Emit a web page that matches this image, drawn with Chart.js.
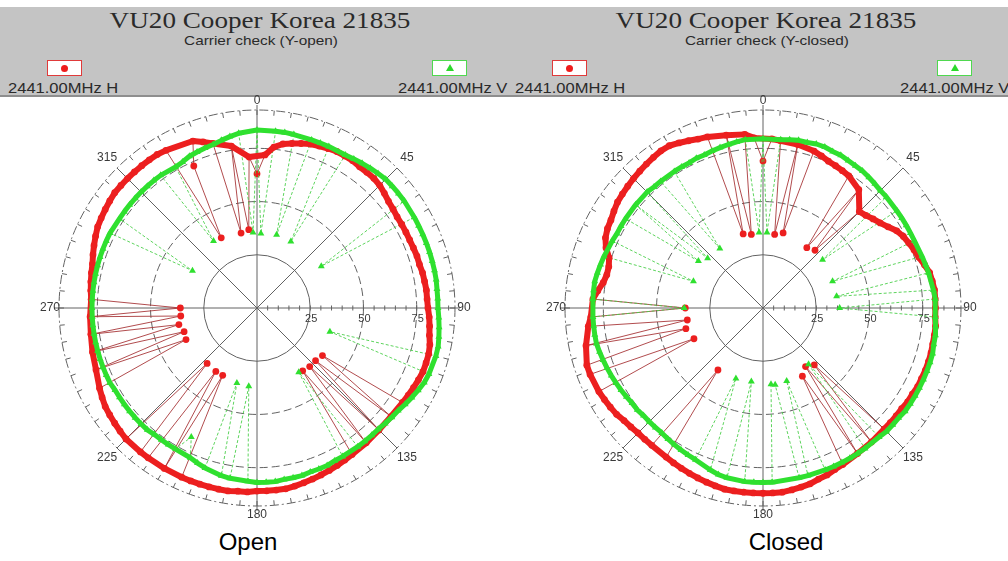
<!DOCTYPE html>
<html><head><meta charset="utf-8">
<script src="https://cdn.jsdelivr.net/npm/chart.js@4.4.1/dist/chart.umd.min.js"></script>
<style>
html,body{margin:0;padding:0;background:#fff;}
#wrap{position:relative;width:1008px;height:561px;overflow:hidden;background:#fff;font-family:"Liberation Sans",Arial,sans-serif;}
.band{position:absolute;left:0;top:7px;width:1008px;height:88px;background:#c4c4c4;border-bottom:2px solid #8e8e8e;}
.t{position:absolute;white-space:nowrap;color:#2a2a2a;}
.title{width:400px;text-align:center;font-family:"Liberation Serif","Times New Roman",serif;font-size:23px;line-height:23px;transform:scaleX(1.18);transform-origin:center;}
.sub{width:300px;text-align:center;font-size:13px;line-height:13px;transform:scaleX(1.18);transform-origin:center;}
.leg{font-size:14px;line-height:14px;transform:scaleX(1.18);transform-origin:left;}
.box{position:absolute;width:33px;height:14px;background:#fff;}
.box.r{border:1.5px solid #e03a3a;}
.box.g{border:1.5px solid #4fd84f;}
.dot{position:absolute;left:13px;top:3.5px;width:7px;height:7px;border-radius:50%;background:#ee1c1c;}
.tri{position:absolute;left:12.5px;top:3px;width:0;height:0;border-left:4px solid transparent;border-right:4px solid transparent;border-bottom:7px solid #2bd92b;}
.cap{width:200px;text-align:center;font-size:24px;line-height:24px;color:#000;}
canvas{position:absolute;}
</style>
</head><body>
<div id="wrap">
  <div class="band"></div>
  <div class="t title" style="left:60px;top:9px;">VU20 Cooper Korea 21835</div>
  <div class="t sub" style="left:111px;top:34px;">Carrier check (Y-open)</div>
  <div class="box r" style="left:47px;top:60px;"><div class="dot"></div></div>
  <div class="box g" style="left:432px;top:60px;"><div class="tri"></div></div>
  <div class="t leg" style="left:8px;top:81px;">2441.00MHz H</div>
  <div class="t leg" style="left:398px;top:81px;">2441.00MHz V</div>

  <div class="t title" style="left:566px;top:9px;">VU20 Cooper Korea 21835</div>
  <div class="t sub" style="left:617px;top:34px;">Carrier check (Y-closed)</div>
  <div class="box r" style="left:552px;top:60px;"><div class="dot"></div></div>
  <div class="box g" style="left:937px;top:60px;"><div class="tri"></div></div>
  <div class="t leg" style="left:515px;top:81px;">2441.00MHz H</div>
  <div class="t leg" style="left:900px;top:81px;">2441.00MHz V</div>

  <canvas id="cOpen" width="514" height="432" style="left:0;top:90px;width:514px;height:432px;"></canvas>
  <canvas id="cClosed" width="490" height="432" style="left:518px;top:90px;width:490px;height:432px;"></canvas>

  <div class="t cap" style="left:148px;top:530px;">Open</div>
  <div class="t cap" style="left:686px;top:530px;">Closed</div>
</div>
<script>
// Angle categories (degrees, clockwise from top)
const angles = [
  0,3,6,9,12,15,18,21,24,27,
  30,33,36,39,42,45,48,51,54,57,
  60,63,66,69,72,75,78,81,84,87,
  90,93,96,99,102,105,108,111,114,117,
  120,123,126,129,132,135,138,141,144,147,
  150,153,156,159,162,165,168,171,174,177,
  180,183,186,189,192,195,198,201,204,207,
  210,213,216,219,222,225,228,231,234,237,
  240,243,246,249,252,255,258,261,264,267,
  270,273,276,279,282,285,288,291,294,297,
  300,303,306,309,312,315,318,321,324,327,
  330,333,336,339,342,345,348,351,354,357
];

// Y-open, 2441.00MHz H (red)
const openH = [
  63,72,76,78,79,80,81,81.5,82,82.5,
  82.5,82.5,82,82,82,81.5,80.5,79.5,79,78.5,
  78.5,78.5,78.5,78.7,79,79,79.5,79.7,80,80,
  80.3,81,81.5,82,83,83.5,83.5,83.5,83,82.5,
  82,81.5,38,81,37,81,37,81.5,36.5,82,
  82.5,83,83.5,84,84.5,85,85.5,86,86,86,
  86,86.5,86.5,87,87,87,87,87,87,35.5,
  87,35.5,87,87,35,87,86.5,86,85.5,85,
  84,83,36.5,81,36,80,37.5,79,36,78.5,
  36,78,78.5,79,79.5,80,81,82,83,84,
  84.5,85,85.5,86,86,86,86,86,86,86,
  85.5,37,73,84,82,80,36,77,37,71
];
// Y-open, 2441.00MHz V (green)
const openV = [
  83.6,35,83.5,83.5,83.3,35.6,83,83,83,35,
  83,83.5,84,84.5,85,85.5,85.5,85.5,85.5,36,
  85.3,85.2,85.2,85.2,85.2,85.2,85.2,85.2,85,85,
  85,85.5,86,86.5,87,87,36,86.5,86,85,
  84,83,82,81.5,81,80.5,80.5,80.5,80.5,36,
  80.5,80.5,81,81,81,81.5,81.5,81.5,82,82,
  82,81.5,37,81,80.5,36.5,79,78,77,68,
  76.5,76.5,76.5,76.5,77,77,77,77,77,77,
  77,77.5,77.5,77.5,77.5,77.5,77.5,77.5,77.5,77.5,
  77.5,77.5,77.5,77.5,77.5,77.5,77.5,77.5,77.5,77.5,
  35,77,77,77,77,77,77,77,77,37.5,
  76.5,77,78,78.5,79,79.5,80.5,81.5,82.5,35.5
];
// Y-closed, 2441.00MHz H (red)
const closedH = [
  69,79.5,79,35,78.5,36.5,77.5,76.5,75.5,75,
  74.5,74,35,71.5,36.5,64,65,66.5,68,70,
  72.5,74,75,76,77,78.5,80,80.5,81,81,
  81,81,81.5,81.5,81.5,81.7,81.7,81.7,81.5,81.5,
  81,81,80.5,80.5,80.5,80.5,36,81,34,81.5,
  37,82.5,83,84,84.5,85.5,86,86.5,87,87,
  87,87,87,87,87,86.5,86,85.5,85,84.5,
  84,83.5,36,83,83,83,83.5,84,85,85.5,
  86,86.5,35.5,87,87,37.5,85,36,82.5,81,
  36.5,80,78,76,75,75,76,79,81,82,
  82.5,83.5,84.5,85,85.5,86,86.5,87,87.5,88,
  88,87,86,85,84.5,36,83,35,82,80
];
// Y-closed, 2441.00MHz V (green)
const closedV = [
  79.5,35.5,79.5,80,80.5,80.5,81,81,80.5,80.5,
  80,79.7,79.5,79,78.5,78,78,36,77.7,77.7,
  77.7,77.7,77.8,35,78.5,79,79.5,35,80.5,81,
  36,81,81.5,82,82,82.5,82.5,82.5,82.5,82.5,
  82.5,82.5,82.5,82,82,82,81.5,34,81.5,81.5,
  81.5,81.5,81.5,81.5,36,81.5,81.5,36.5,36,82,
  82,82,82,35,81.5,81,80,35.5,78,77.5,
  77,76.5,76,75.5,75.5,75.5,75.5,76,76,76.5,
  77,77.5,78,78.5,79,79.5,80,80,80,80,
  37,80,80,80,79.5,79,78.5,35,77.5,77,
  77,77,37.5,77,35,77,76.5,76.5,34.5,76.5,
  76.5,76.5,77,77,77.5,78,78.5,79,79.5,35.5
];

const ringTicks = [0,25,50,75,93];
const tickLabels = ['25','50','75'];
const angleLabels = ['0','45','90','135','180','225','270','315'];

const RED = '#ec1f1f', RED_SPIKE = '#a8383a';
const GREEN = '#2fe02f', GREEN_SPIKE = '#4ccf4c';
const GRID = '#626262', TXT = '#3a3a3a';

// a reading is a dropout when it sits well below a neighbouring reading
function isDip(d, i) {
  const n = d.length;
  return Math.max(d[(i - 1 + n) % n], d[(i + 1) % n]) - d[i] > 8;
}
function bandOf(d) { return d.map((v, i) => isDip(d, i) ? null : v); }

function bandSet(label, data, color, style, order) {
  return {
    label, data: bandOf(data), order, fill: false, tension: 0, spanGaps: true,
    borderColor: color, borderWidth: style === 'triangle' ? 5 : 6,
    borderCapStyle: 'round', borderJoinStyle: 'round',
    pointStyle: style, pointRadius: style === 'triangle' ? 4 : 3.4,
    pointBorderWidth: 0, pointBackgroundColor: color, pointBorderColor: color, pointHoverRadius: 0
  };
}
function spikeSet(label, data, color, spikeColor, style, dashed, order) {
  return {
    label, data, order, fill: false, tension: 0,
    borderColor: spikeColor, borderWidth: 0.9, borderDash: dashed ? [3, 2] : [],
    pointStyle: style,
    pointRadius: c => isDip(data, c.dataIndex) ? (style === 'triangle' ? 4 : 3.4) : 0,
    pointBorderWidth: 0, pointBackgroundColor: color, pointBorderColor: color, pointHoverRadius: 0
  };
}

const decor = {
  id: 'decor',
  beforeDatasetsDraw(chart) {
    const s = chart.scales.r, ctx = chart.ctx, R = s.drawingArea;
    const n = angles.length, step = 360 / n;
    ctx.save();
    ctx.strokeStyle = GRID; ctx.lineWidth = 1; ctx.setLineDash([]);
    for (let a = 0; a < 360; a += 5) {
      const p1 = s.getPointPosition(a / step, R);
      const p2 = s.getPointPosition(a / step, R - 5);
      ctx.beginPath(); ctx.moveTo(p1.x, p1.y); ctx.lineTo(p2.x, p2.y); ctx.stroke();
    }
    for (const a of [0, 90, 180, 270]) {
      const p1 = s.getPointPosition(a / step, R);
      const p2 = s.getPointPosition(a / step, R + 5);
      ctx.beginPath(); ctx.moveTo(p1.x, p1.y); ctx.lineTo(p2.x, p2.y); ctx.stroke();
    }
    for (let v = 5; v <= 90; v += 5) {
      const p = s.getPointPositionForValue(90 / step, v);
      ctx.beginPath(); ctx.moveTo(p.x, p.y - 2.5); ctx.lineTo(p.x, p.y + 2.5); ctx.stroke();
    }
    ctx.fillStyle = TXT;
    ctx.textAlign = 'center'; ctx.textBaseline = 'middle';
    ctx.font = '11px "Liberation Sans", Arial, sans-serif';
    tickLabels.forEach(t => {
      const p = s.getPointPositionForValue(90 / step, Number(t));
      ctx.fillText(t, p.x + 1, p.y + 11);
    });
    ctx.font = '12px "Liberation Sans", Arial, sans-serif';
    angleLabels.forEach(t => {
      const a = Number(t);
      const off = (a % 90 === 0) ? 9 : 14;
      const p = s.getPointPosition(a / step, R + off);
      ctx.fillText(t, p.x, p.y);
    });
    ctx.restore();
  }
};

function mkChart(id, h, v, cx, cy) {
  return new Chart(document.getElementById(id), {
    type: 'radar',
    data: {
      labels: angles.map(String),
      datasets: [
        bandSet('2441.00MHz V', v, GREEN, 'triangle', 0),
        bandSet('2441.00MHz H', h, RED, 'circle', 1),
        spikeSet('2441.00MHz V dropouts', v, GREEN, GREEN_SPIKE, 'triangle', true, 2),
        spikeSet('2441.00MHz H dropouts', h, RED, RED_SPIKE, 'circle', false, 3)
      ]
    },
    options: {
      responsive: false, animation: false, devicePixelRatio: 1, events: [],
      plugins: { legend: { display: false }, tooltip: { enabled: false }, title: { display: false } },
      scales: {
        r: {
          min: 0, max: 93,
          afterBuildTicks: s => { s.ticks = ringTicks.map(x => ({ value: x })); },
          afterFit: s => { s.xCenter = cx; s.yCenter = cy; s.drawingArea = 198; },
          ticks: { display: false },
          pointLabels: { display: false },
          grid: { circular: true, color: GRID, lineWidth: 1 },
          border: { dash: c => c.index === 1 ? [] : (c.index === 4 ? [9, 3, 2, 3] : [8, 4]) },
          angleLines: { color: GRID, lineWidth: c => (c.index % 15 === 0 ? 1 : 0) }
        }
      }
    },
    plugins: [decor]
  });
}

mkChart('cOpen', openH, openV, 257, 218);
mkChart('cClosed', closedH, closedV, 245, 218);
</script>
</body></html>
